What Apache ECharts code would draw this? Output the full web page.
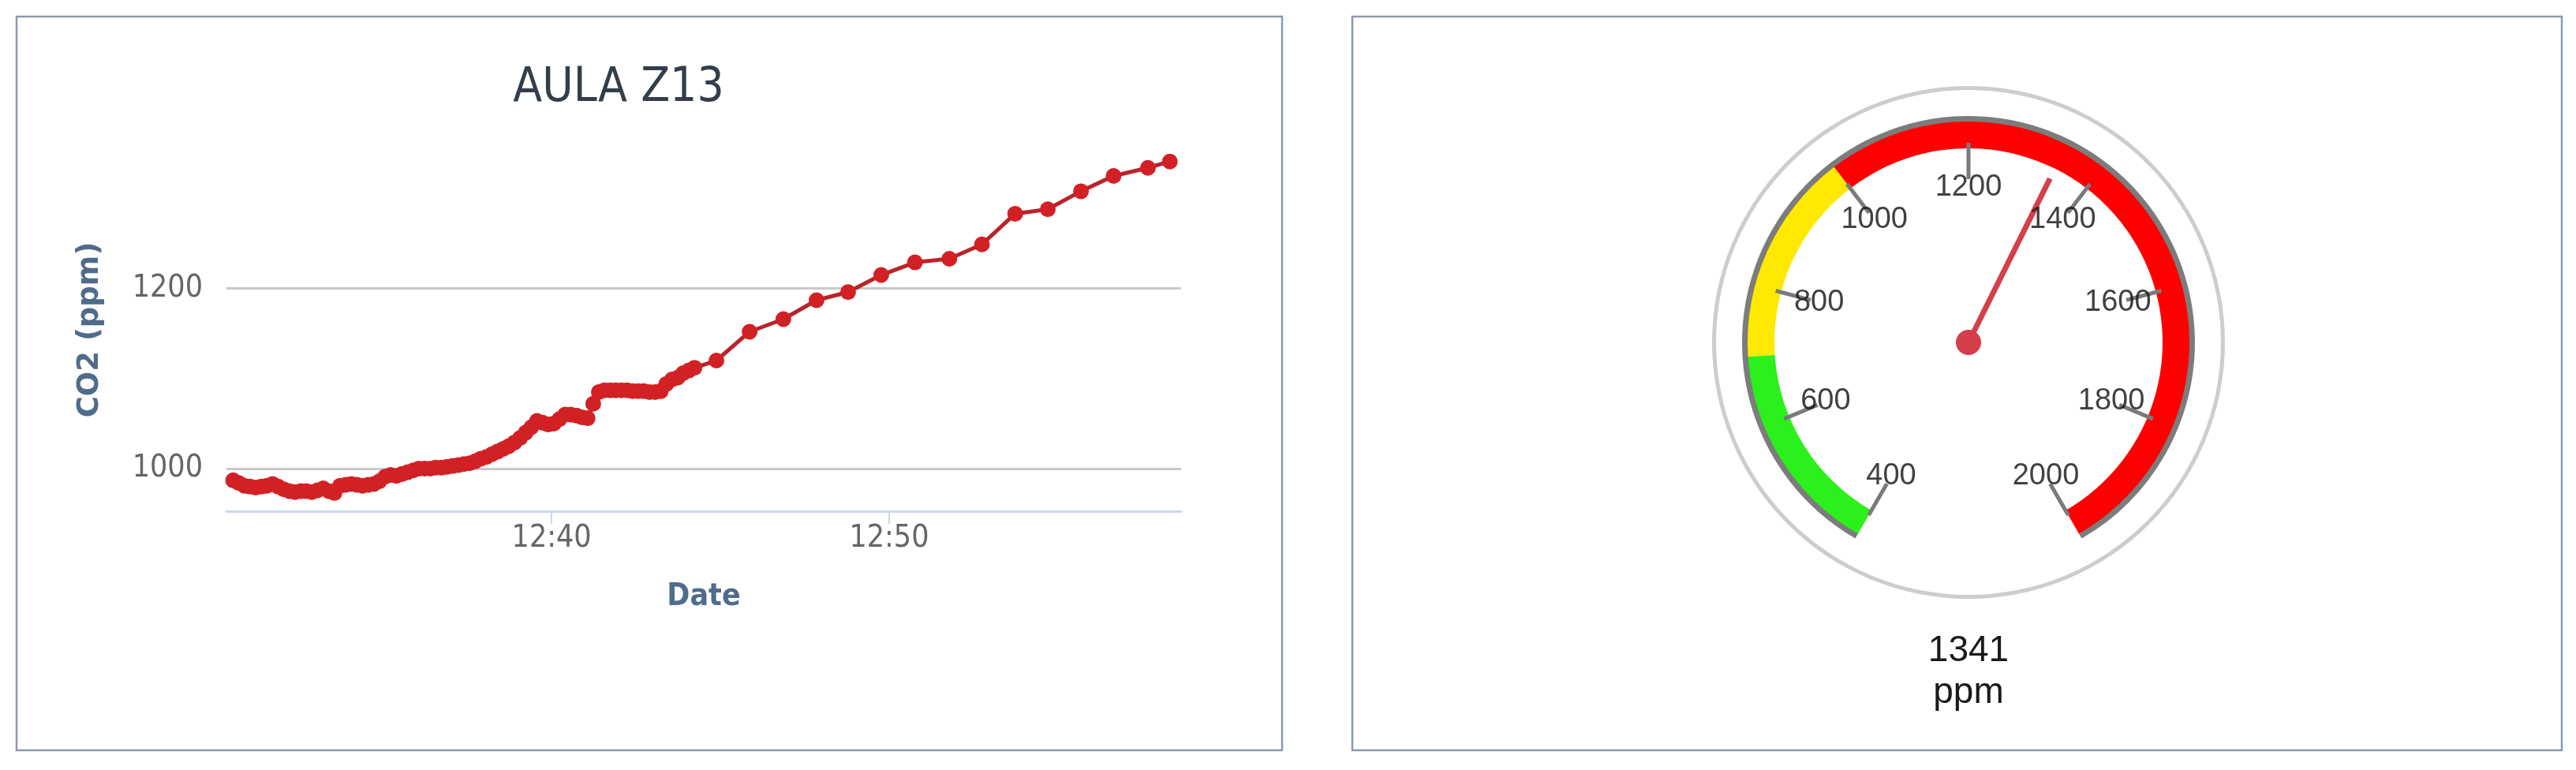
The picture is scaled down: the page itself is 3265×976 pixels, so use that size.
<!DOCTYPE html>
<html>
<head>
<meta charset="utf-8">
<title>AULA Z13 - CO2</title>
<script src="https://cdn.jsdelivr.net/npm/echarts@6/dist/echarts.min.js"></script>
<style>
  html, body { margin: 0; padding: 0; background: #ffffff; }
  #chart { width: 3265px; height: 976px; }
</style>
</head>
<body>
<div id="chart"></div>
<script>
// readings of the sensor
var day = '2021-10-20 ';
var times = [
	'12:30:34','12:30:44','12:30:54','12:31:04','12:31:14','12:31:24','12:31:34','12:31:44','12:31:54','12:32:04',
	'12:32:14','12:32:24','12:32:34','12:32:44','12:32:54','12:33:04','12:33:14','12:33:24','12:33:34','12:33:44',
	'12:33:54','12:34:04','12:34:14','12:34:24','12:34:34','12:34:44','12:34:54','12:35:04','12:35:14','12:35:24',
	'12:35:34','12:35:44','12:35:54','12:36:04','12:36:14','12:36:24','12:36:34','12:36:44','12:36:54','12:37:04',
	'12:37:14','12:37:24','12:37:34','12:37:44','12:37:54','12:38:04','12:38:14','12:38:24','12:38:34','12:38:44',
	'12:38:54','12:39:04','12:39:14','12:39:24','12:39:34','12:39:44','12:39:54','12:40:04','12:40:14','12:40:24',
	'12:40:34','12:40:44','12:40:54','12:41:04','12:41:14','12:41:24','12:41:34','12:41:44','12:41:54','12:42:04',
	'12:42:14','12:42:24','12:42:34','12:42:44','12:42:54','12:43:04','12:43:14','12:43:24','12:43:34','12:43:44',
	'12:43:54','12:44:04','12:44:14',
	'12:44:53','12:45:52','12:46:52','12:47:51','12:48:47','12:49:46','12:50:46','12:51:47','12:52:45','12:53:44',
	'12:54:42','12:55:41','12:56:39','12:57:40','12:58:19'
];
var co2 = [
	987, 984, 981, 980, 979, 980, 981, 983, 980, 977,
	975, 974, 975, 975, 974, 976, 978, 975, 973, 981,
	982, 983, 982, 981, 982, 983, 986, 991, 993, 992,
	994, 996, 998, 1000, 1000, 1000, 1001, 1001, 1002, 1003,
	1004, 1005, 1006, 1008, 1011, 1013, 1016, 1019, 1022, 1025,
	1029, 1034, 1040, 1046, 1053, 1051, 1049, 1050, 1055, 1060,
	1060, 1059, 1057, 1056, 1072, 1085, 1087, 1087, 1087, 1087,
	1087, 1086, 1086, 1086, 1085, 1085, 1086, 1094, 1099, 1101,
	1106, 1109, 1112,
	1120, 1152, 1166, 1187, 1196, 1215, 1229, 1233, 1249, 1283,
	1288, 1308, 1325, 1334, 1341
];
var xRange = ['12:30:22', '12:58:39'];
var xTicks = ['12:40:00', '12:50:00'];
var yRange = [952.7, 1371.4];
var yTicks = [1000, 1200];

// gauge
var gaugeValue = 1341;
var gaugeMin = 400;
var gaugeMax = 2000;
var gaugeTicks = [400, 600, 800, 1000, 1200, 1400, 1600, 1800, 2000];
var bands = [[700, '#2bf01b'], [1000, '#ffe900'], [2000, '#ff0000']];

function ts(t) {
	return echarts.time.parse(day + t).getTime();
}

var seriesData = [];
for (var i = 0; i < times.length; i++) {
	seriesData.push([ts(times[i]), co2[i]]);
}
var xTickValues = xTicks.map(ts);

var bandColors = bands.map(function (b) {
	return [(b[0] - gaugeMin) / (gaugeMax - gaugeMin), b[1]];
});

var condensed = '"DejaVu Sans Condensed", "Liberation Sans Narrow", Roboto, sans-serif';
var gaugeCenter = [2495, 434];
var gaugeSweep = 300; // degrees, from 240 to -60

var option = {
	animation: false,
	backgroundColor: '#ffffff',
	graphic: [
		{ type: 'rect', shape: { x: 21, y: 21, width: 1604, height: 930 },
		  style: { fill: 'none', stroke: '#8a9aae', lineWidth: 2.5 }, silent: true },
		{ type: 'rect', shape: { x: 1714, y: 21, width: 1533, height: 930 },
		  style: { fill: 'none', stroke: '#8a9aae', lineWidth: 2.5 }, silent: true }
	],
	title: {
		text: 'AULA Z13',
		left: 779,
		top: 77,
		textAlign: 'center',
		textStyle: {
			fontFamily: condensed,
			fontWeight: 'normal',
			fontSize: 60,
			color: '#333e4a'
		}
	},
	grid: { left: 287, right: 1768, top: 170, bottom: 328 },
	xAxis: {
		type: 'time',
		min: ts(xRange[0]),
		max: ts(xRange[1]),
		name: 'Date',
		nameLocation: 'middle',
		nameGap: 89,
		nameTextStyle: {
			fontFamily: condensed,
			fontWeight: 'bold',
			fontSize: 39,
			color: '#506c8c'
		},
		axisLine: { lineStyle: { color: '#ccd6eb', width: 3 } },
		axisTick: { show: true, customValues: xTickValues, length: 16, lineStyle: { color: '#ccd6eb', width: 2 } },
		splitLine: { show: false },
		axisLabel: {
			customValues: xTickValues,
			formatter: '{HH}:{mm}',
			margin: 15,
			fontFamily: condensed,
			fontSize: 39,
			color: '#666666'
		}
	},
	yAxis: {
		type: 'value',
		min: yRange[0],
		max: yRange[1],
		name: 'CO2 (ppm)',
		nameLocation: 'middle',
		nameGap: 154,
		nameTextStyle: {
			fontFamily: '"DejaVu Sans", sans-serif',
			fontWeight: 'bold',
			fontSize: 37,
			color: '#506c8c',
			padding: [0, 18, 0, 0]
		},
		axisLine: { show: false },
		axisTick: { show: false, customValues: yTicks },
		splitLine: { show: true, lineStyle: { color: '#c9c9c9', width: 3 } },
		axisLabel: {
			customValues: yTicks,
			formatter: function (v) { return String(v); },
			margin: 30,
			fontFamily: condensed,
			fontSize: 39,
			color: '#666666'
		}
	},
	polar: { center: gaugeCenter, radius: 286 },
	angleAxis: {
		type: 'value',
		min: gaugeMin,
		max: gaugeMin + (gaugeMax - gaugeMin) * 360 / gaugeSweep,
		startAngle: 240,
		clockwise: true,
		axisLine: { show: false }, axisTick: { show: false },
		axisLabel: { show: false }, splitLine: { show: false }
	},
	radiusAxis: {
		type: 'value', min: 0, max: 286,
		axisLine: { show: false }, axisTick: { show: false },
		axisLabel: { show: false }, splitLine: { show: false }
	},
	series: [
		{
			name: 'CO2',
			type: 'line',
			data: seriesData,
			symbol: 'circle',
			symbolSize: 20,
			showSymbol: true,
			lineStyle: { color: '#b8242a', width: 5 },
			itemStyle: { color: '#d22125' },
			z: 3
		},
		{	// outer light ring
			type: 'gauge',
			center: gaugeCenter,
			radius: 325,
			startAngle: 90,
			endAngle: -270,
			axisLine: { lineStyle: { width: 5, color: [[1, '#cdcdcd']] } },
			splitLine: { show: false }, axisTick: { show: false }, axisLabel: { show: false },
			pointer: { show: false }, anchor: { show: false }, title: { show: false }, detail: { show: false },
			data: [{ value: 0 }]
		},
		{	// grey rim on the outside of the band
			type: 'gauge',
			center: gaugeCenter,
			radius: 287,
			startAngle: 240,
			endAngle: -60,
			min: gaugeMin,
			max: gaugeMax,
			axisLine: { lineStyle: { width: 8, color: [[1, '#7c7c7c']] } },
			splitLine: { show: false }, axisTick: { show: false }, axisLabel: { show: false },
			pointer: { show: false }, anchor: { show: false }, title: { show: false }, detail: { show: false },
			data: [{ value: gaugeValue }]
		},
		{
			name: 'CO2 now',
			type: 'gauge',
			center: gaugeCenter,
			radius: 280,
			startAngle: 240,
			endAngle: -60,
			min: gaugeMin,
			max: gaugeMax,
			splitNumber: gaugeTicks.length - 1,
			axisLine: { lineStyle: { width: 34, color: bandColors } },
			splitLine: { show: true, distance: -7, length: 46, lineStyle: { color: '#7a7a7a', width: 5 } },
			axisTick: { show: false },
			axisLabel: { show: false },
			pointer: {
				show: true,
				icon: 'rect',
				length: 232,
				width: 7,
				itemStyle: { color: '#d43f4a' }
			},
			anchor: {
				show: true,
				showAbove: true,
				size: 32,
				itemStyle: { color: '#d43f4a' }
			},
			title: { show: false },
			detail: {
				show: true,
				offsetCenter: [0, 418],
				formatter: '{value}\nppm',
				fontFamily: '"Liberation Sans", Arial, sans-serif',
				fontWeight: 'normal',
				fontSize: 46,
				lineHeight: 53,
				color: '#1a1a1a'
			},
			data: [{ value: gaugeValue }]
		},
		{	// gauge scale labels, placed through a polar scale
			type: 'scatter',
			coordinateSystem: 'polar',
			symbolSize: 1,
			itemStyle: { color: 'rgba(0,0,0,0)' },
			data: gaugeTicks.map(function (v) { return [196, v]; }),
			label: {
				show: true,
				position: 'inside',
				formatter: function (p) { return p.value[1]; },
				fontFamily: '"Liberation Sans", Arial, sans-serif',
				fontSize: 38,
				color: '#111111'
			},
			silent: true,
			z: 5
		}
	]
};

var myChart = echarts.init(document.getElementById('chart'));
myChart.setOption(option);
</script>
</body>
</html>
